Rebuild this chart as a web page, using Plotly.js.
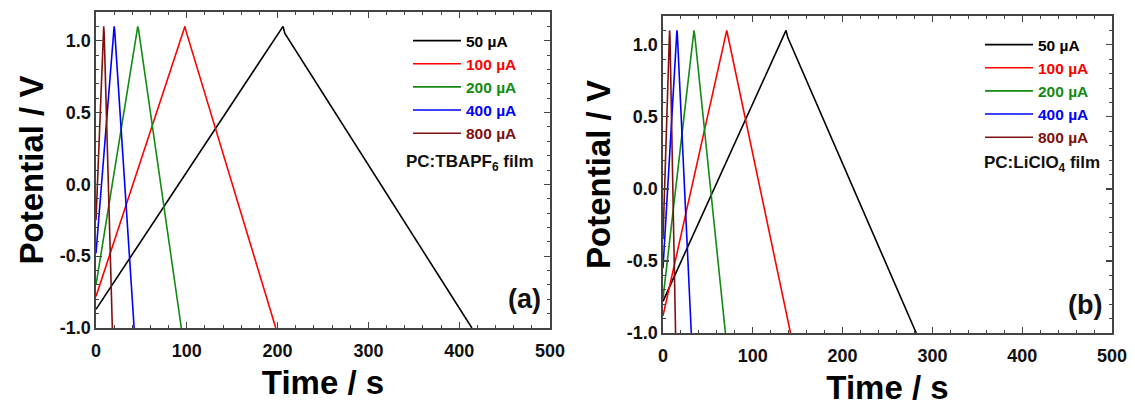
<!DOCTYPE html>
<html>
<head>
<meta charset="utf-8">
<script src="https://cdn.plot.ly/plotly-3.0.1.min.js"></script>
<style>html,body{margin:0;padding:0;background:#fff;}#chart{width:1135px;height:408px;}</style>
</head>
<body>
<div id="chart"></div>
<script>
// ---- Data ----
const seriesNames = ['50 µA', '100 µA', '200 µA', '400 µA', '800 µA'];
const seriesColors = ['#000000', '#ff0000', '#138a13', '#0000ff', '#7f1010'];

// Panel (a) PC:TBAPF6 film
const tA50  = [0, 206, 208, 414];   const vA50  = [-0.87, 1.10, 1.05, -1.00];
const tA100 = [0, 98, 99, 198];     const vA100 = [-0.78, 1.10, 1.07, -1.00];
const tA200 = [0, 46, 47, 94];      const vA200 = [-0.70, 1.10, 1.07, -1.00];
const tA400 = [0, 20, 20.6, 42];    const vA400 = [-0.48, 1.10, 1.07, -1.00];
const tA800 = [0, 8.5, 9, 18];      const vA800 = [-0.25, 1.10, 1.05, -1.00];

// Panel (b) PC:LiClO4 film
const tB50  = [0, 137, 139, 282];   const vB50  = [-0.78, 1.10, 1.05, -1.00];
const tB100 = [0, 71, 72, 142];     const vB100 = [-0.88, 1.10, 1.07, -1.00];
const tB200 = [0, 34.5, 35.3, 69.5];const vB200 = [-0.76, 1.10, 1.07, -1.00];
const tB400 = [0, 15.5, 16, 31.5];  const vB400 = [-0.55, 1.10, 1.07, -1.00];
const tB800 = [0, 7.3, 7.8, 14];    const vB800 = [-0.35, 1.10, 1.05, -1.00];

const yTickVals = [-1, -0.5, 0, 0.5, 1];
const yTickText = ['-1.0', '-0.5', '0.0', '0.5', '1.0'];
const xTickVals = [0, 100, 200, 300, 400, 500];
const xTickText = ['0', '100', '200', '300', '400', '500'];

const panelA = [[tA50, vA50], [tA100, vA100], [tA200, vA200], [tA400, vA400], [tA800, vA800]];
const panelB = [[tB50, vB50], [tB100, vB100], [tB200, vB200], [tB400, vB400], [tB800, vB800]];

const FONT = 'Liberation Sans, Arial, Helvetica, sans-serif';
const traces = [];
panelA.forEach((d, i) => traces.push({
  x: d[0], y: d[1], type: 'scatter', mode: 'lines', xaxis: 'x', yaxis: 'y',
  name: '<span style="color:' + seriesColors[i] + '">' + seriesNames[i] + '</span>',
  line: {color: seriesColors[i], width: 1.6}, legend: 'legend', legendgroup: 'a' + i
}));
panelB.forEach((d, i) => traces.push({
  x: d[0], y: d[1], type: 'scatter', mode: 'lines', xaxis: 'x2', yaxis: 'y2',
  name: '<span style="color:' + seriesColors[i] + '">' + seriesNames[i] + '</span>',
  line: {color: seriesColors[i], width: 1.6}, legend: 'legend2', legendgroup: 'b' + i
}));

function xax(domain, anchor) {
  return {
    domain: domain, anchor: anchor, range: [0, 500],
    tickmode: 'array', tickvals: xTickVals, ticktext: xTickText,
    ticks: 'inside', ticklen: 6, tickwidth: 1.2, tickcolor: '#444',
    minor: {ticks: 'inside', dtick: 20, tick0: 0, ticklen: 3, tickcolor: '#444', tickwidth: 1},
    showline: true, linecolor: '#444', linewidth: 1.6, mirror: 'ticks',
    showgrid: false, zeroline: false, ticklabelstandoff: 6,
    tickfont: {family: FONT, size: 18, color: '#111', weight: 700},
    title: {text: 'Time / s', font: {family: FONT, size: 33, color: '#000', weight: 700}, standoff: 10}
  };
}
function yax(domain, anchor) {
  return {
    domain: domain, anchor: anchor, range: [-1, 1.2],
    tickmode: 'array', tickvals: yTickVals, ticktext: yTickText,
    ticks: 'inside', ticklen: 6, tickwidth: 1.2, tickcolor: '#444',
    minor: {ticks: 'inside', dtick: 0.1, tick0: 0, ticklen: 3, tickcolor: '#444', tickwidth: 1},
    showline: true, linecolor: '#444', linewidth: 1.6, mirror: 'ticks',
    showgrid: false, zeroline: false,
    tickfont: {family: FONT, size: 18, color: '#111', weight: 700},
    title: {text: 'Potential / V', font: {family: FONT, size: 33, color: '#000', weight: 700}, standoff: 6}
  };
}
function leg(x, y) {
  return {
    x: x, y: y, xanchor: 'left', yanchor: 'top', bgcolor: 'rgba(0,0,0,0)',
    font: {family: FONT, size: 15.5, weight: 700}, tracegroupgap: 0, itemwidth: 48,
    traceorder: 'normal'
  };
}

const layout = {
  width: 1135, height: 408,
  margin: {l: 0, r: 0, t: 0, b: 0},
  paper_bgcolor: '#fff', plot_bgcolor: '#fff',
  showlegend: true,
  xaxis: xax([96/1135, 550/1135], 'y'),
  yaxis: yax([80/408, 396/408], 'x'),
  xaxis2: xax([663/1135, 1112/1135], 'y2'),
  yaxis2: yax([75/408, 392/408], 'x2'),
  legend: leg(408/1135, 1 - 24/408),
  legend2: leg(980/1135, 1 - 28/408),
  annotations: [
    {xref: 'paper', yref: 'paper', x: 404/1135, y: 1 - 163/408, xanchor: 'left', yanchor: 'middle', showarrow: false,
     text: 'PC:TBAPF<sub>6</sub> film', font: {family: FONT, size: 17, color: '#111', weight: 700}},
    {xref: 'paper', yref: 'paper', x: 982/1135, y: 1 - 164/408, xanchor: 'left', yanchor: 'middle', showarrow: false,
     text: 'PC:LiClO<sub>4</sub> film', font: {family: FONT, size: 17, color: '#111', weight: 700}},
    {xref: 'paper', yref: 'paper', x: 524/1135, y: 1 - 299/408, xanchor: 'center', yanchor: 'middle', showarrow: false,
     text: '(a)', font: {family: FONT, size: 27, color: '#111', weight: 700}},
    {xref: 'paper', yref: 'paper', x: 1085/1135, y: 1 - 305/408, xanchor: 'center', yanchor: 'middle', showarrow: false,
     text: '(b)', font: {family: FONT, size: 27, color: '#111', weight: 700}}
  ]
};

Plotly.newPlot('chart', traces, layout, {staticPlot: true, displayModeBar: false});
</script>
</body>
</html>
